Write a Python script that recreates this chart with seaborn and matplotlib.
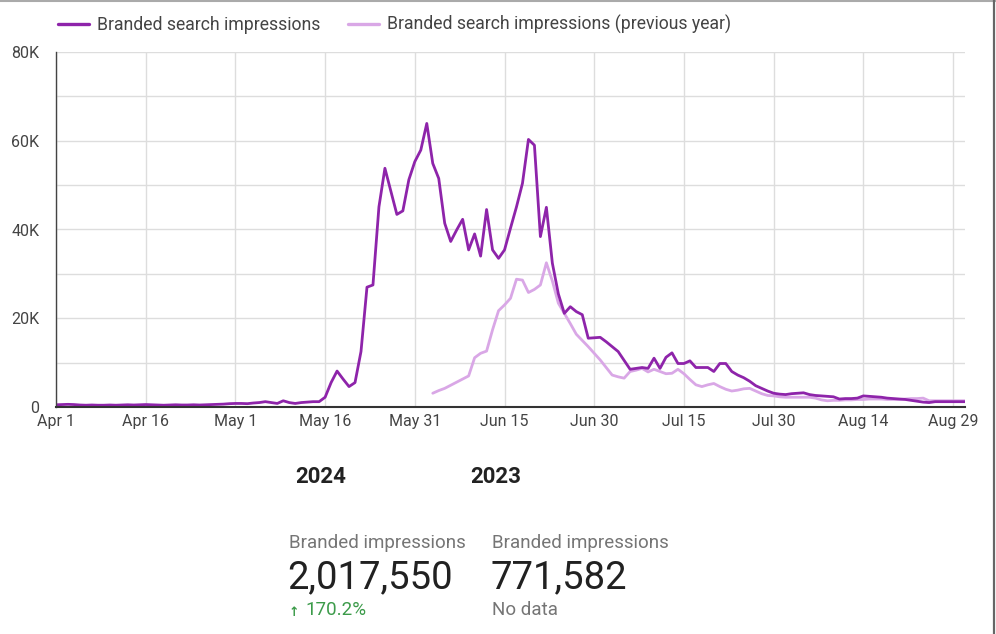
import numpy as np
import pandas as pd
import matplotlib
matplotlib.use("Agg")
import matplotlib.pyplot as plt
import matplotlib.dates as mdates
from matplotlib.ticker import FuncFormatter, MultipleLocator
from matplotlib.lines import Line2D
import seaborn as sns

# ----------------------------------------------------------
# data (daily, Apr 1 - Aug 31), values in thousands
# ----------------------------------------------------------
dates = pd.date_range("2024-04-01", "2024-08-31", freq="D")

current_k = [
    0.5, 0.55, 0.6, 0.55, 0.45, 0.4, 0.45, 0.4, 0.4, 0.45,
    0.4, 0.45, 0.5, 0.45, 0.5, 0.55, 0.5, 0.45, 0.4, 0.45,
    0.5, 0.45, 0.45, 0.5, 0.45, 0.5, 0.55, 0.6, 0.65, 0.75,
    0.8, 0.8, 0.75, 0.9, 1.0, 1.2, 1.0, 0.8, 1.4, 1.0,
    0.8, 1.0, 1.1, 1.2, 1.2, 2.2, 5.5, 8.1, 6.3, 4.6,
    5.5, 12.5, 27.0, 27.5, 45.1, 53.8, 48.6, 43.4, 44.2, 51.2,
    55.3, 57.9, 63.9, 54.9, 51.5, 41.4, 37.3, 39.9, 42.3, 35.4,
    39.0, 34.0, 44.5, 35.4, 33.5, 35.4, 40.3, 45.1, 50.4, 60.3,
    59.0, 38.4, 45.0, 32.4, 25.5, 21.1, 22.6, 21.5, 20.8, 15.5,
    15.6, 15.7, 14.7, 13.6, 12.5, 10.5, 8.5, 8.7, 8.9, 8.7,
    11.0, 8.7, 11.2, 12.2, 9.8, 9.8, 10.4, 8.9, 8.9, 8.9,
    8.0, 9.8, 9.8, 8.0, 7.2, 6.6, 5.8, 4.8, 4.2, 3.6,
    3.1, 2.9, 2.8, 3.0, 3.1, 3.2, 2.8, 2.6, 2.5, 2.4,
    2.3, 1.8, 1.9, 1.9, 2.0, 2.5, 2.4, 2.3, 2.2, 2.0,
    1.9, 1.8, 1.7, 1.5, 1.3, 1.1, 1.0, 1.2, 1.2, 1.2,
    1.2, 1.2, 1.2,
]

# previous year starts on Jun 3
previous_k = [np.nan] * 63 + [
    3.1, 3.7, 4.2, 4.9, 5.6, 6.3, 7.0, 11.1, 12.1, 12.6,
    17.4, 21.7, 23.0, 24.5, 28.8, 28.6, 25.8, 26.5, 27.5, 32.5,
    28.4, 23.4, 21.1, 18.8, 16.4, 15.0, 13.6, 12.1, 10.6, 8.9,
    7.2, 6.8, 6.5, 8.0, 8.3, 8.7, 7.9, 8.5, 8.0, 7.5,
    7.6, 8.5, 7.5, 6.2, 5.0, 4.6, 5.0, 5.3, 4.6, 4.0,
    3.6, 3.8, 4.1, 4.2, 3.6, 3.0, 2.6, 2.5, 2.3, 2.2,
    2.2, 2.2, 2.2, 2.2, 2.0, 1.6, 1.4, 1.5, 1.5, 1.6,
    1.6, 1.7, 1.7, 1.8, 1.8, 1.8, 1.7, 1.7, 1.7, 1.8,
    1.9, 1.9, 2.0, 1.4, 1.4, 1.4, 1.4, 1.4, 1.4, 1.4,
]

labels = ["Branded search impressions", "Branded search impressions (previous year)"]
colors = ["#8E24AA", "#D9A7E6"]

df = pd.DataFrame({
    "date": dates,
    "current": np.array(current_k) * 1000,
    "previous": np.array(previous_k) * 1000,
})

# ----------------------------------------------------------
# figure
# ----------------------------------------------------------
sns.set_theme(style="white")
plt.rcParams["font.family"] = ["Roboto", "DejaVu Sans"]

fig = plt.figure(figsize=(9.96, 6.34), dpi=100)
ax = fig.add_axes([56 / 996, 1 - 407 / 634, (965 - 56) / 996, (407 - 52) / 634])

sns.lineplot(data=df, x="date", y="previous", ax=ax, color=colors[1], lw=2.0)
sns.lineplot(data=df, x="date", y="current", ax=ax, color=colors[0], lw=2.0)

ax.set_xlim(dates[0], dates[-1])
ax.set_ylim(0, 80000)
ax.set_xlabel("")
ax.set_ylabel("")

ax.set_xticks(pd.date_range(dates[0], dates[-1], freq="15D"))
ax.xaxis.set_major_formatter(FuncFormatter(lambda v, p: mdates.num2date(v).strftime("%b %-d")))
ax.yaxis.set_major_locator(MultipleLocator(20000))
ax.yaxis.set_minor_locator(MultipleLocator(10000))
ax.yaxis.set_major_formatter(FuncFormatter(lambda v, p: "0" if v == 0 else f"{int(v / 1000)}K"))

ax.grid(True, which="major", axis="x", color="#dddddd", lw=1)
ax.grid(True, which="both", axis="y", color="#dddddd", lw=1)
ax.set_axisbelow(True)
ax.tick_params(axis="both", which="both", length=0, labelsize=11.5, colors="#444444")
ax.tick_params(axis="x", pad=5)
ax.tick_params(axis="y", pad=12)

for s in ["top", "right"]:
    ax.spines[s].set_visible(False)
ax.spines["left"].set_color("#444444")
ax.spines["bottom"].set_color("#333333")
ax.spines["left"].set_linewidth(1.0)
ax.spines["bottom"].set_linewidth(1.5)

# legend
handles = [Line2D([], [], color=c, lw=2.4) for c in colors]
fig.legend(handles, labels, loc="upper left", bbox_to_anchor=(42 / 996, 1 + 1 / 634),
           ncol=2, frameon=False, fontsize=12.7, handlelength=1.75, handletextpad=0.45,
           columnspacing=1.6, labelcolor="#444444")

# year and scorecard texts
fig.text(295 / 996, 1 - 477 / 634, "2024", fontsize=16, fontweight="bold", color="#222222", va="center")
fig.text(470 / 996, 1 - 477 / 634, "2023", fontsize=16, fontweight="bold", color="#222222", va="center")

fig.text(289 / 996, 1 - 543 / 634, "Branded impressions", fontsize=13.5, color="#757575", va="center")
fig.text(492 / 996, 1 - 543 / 634, "Branded impressions", fontsize=13.5, color="#757575", va="center")
fig.text(287 / 996, 1 - 578 / 634, "2,017,550", fontsize=27.5, color="#212121", va="center")
fig.text(490 / 996, 1 - 578 / 634, "771,582", fontsize=27.5, color="#212121", va="center")
fig.text(289 / 996, 1 - 612 / 634, "\u2191", fontsize=9, color="#3c9b4a", va="center",
         family=["DejaVu Sans"], fontweight="bold")
fig.text(305 / 996, 1 - 610 / 634, "170.2%", fontsize=13.5, color="#3c9b4a", va="center")
fig.text(492 / 996, 1 - 610 / 634, "No data", fontsize=13.5, color="#757575", va="center")

# frame of the screenshot
fig.add_artist(Line2D([0, 1], [0.999, 0.999], color="#aaaaaa", lw=1.5, transform=fig.transFigure))
fig.add_artist(Line2D([993.5 / 996, 993.5 / 996], [0, 1], color="#666666", lw=1.6, transform=fig.transFigure))

fig.savefig("out.png", dpi=100)
